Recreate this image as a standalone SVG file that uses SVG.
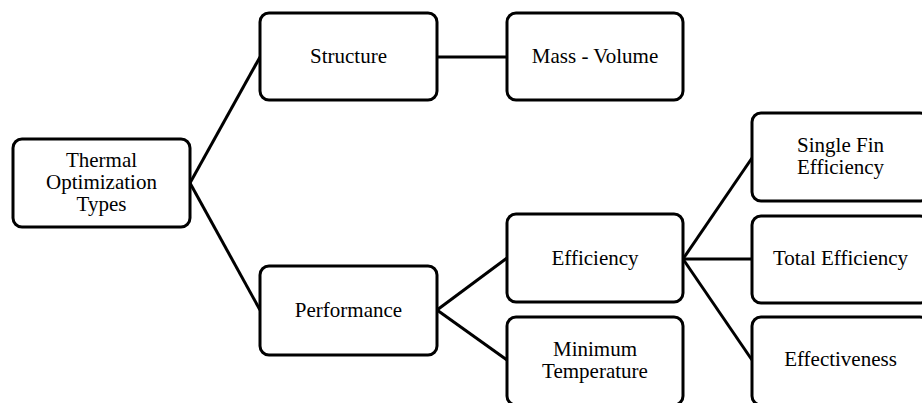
<svg xmlns="http://www.w3.org/2000/svg" width="922" height="403" viewBox="0 0 922 403">
<style>
.box{fill:#fff;stroke:#000;stroke-width:3}
.lbl{font-family:'Liberation Serif','Times New Roman',serif;font-size:21px;fill:#000;text-anchor:middle}
.conn line{stroke:#000;stroke-width:3}
</style>
<rect width="922" height="403" fill="#fff"/>
<g class="conn" id="connectors">
<line x1="190" y1="183" x2="260" y2="57"/>
<line x1="190" y1="183" x2="260" y2="310"/>
<line x1="437" y1="57" x2="507" y2="57"/>
<line x1="437" y1="310" x2="507" y2="258"/>
<line x1="437" y1="310" x2="507" y2="360"/>
<line x1="683" y1="259" x2="752" y2="158"/>
<line x1="683" y1="259" x2="752" y2="259"/>
<line x1="683" y1="259" x2="752" y2="360"/>
</g>
<g id="thermal"><rect class="box" x="13" y="139" width="177" height="88" rx="9"/>
<text class="lbl" x="101.5" y="167">Thermal<tspan x="101.5" dy="22">Optimization</tspan><tspan x="101.5" dy="22">Types</tspan></text></g>
<g id="structure"><rect class="box" x="260" y="13" width="177" height="87" rx="9"/>
<text class="lbl" x="348.5" y="63">Structure</text></g>
<g id="mass-volume"><rect class="box" x="507" y="13" width="176" height="87" rx="9"/>
<text class="lbl" x="595" y="63">Mass - Volume</text></g>
<g id="performance"><rect class="box" x="260" y="266" width="177" height="89" rx="9"/>
<text class="lbl" x="348.5" y="317">Performance</text></g>
<g id="efficiency"><rect class="box" x="507" y="214" width="176" height="88" rx="9"/>
<text class="lbl" x="595" y="265">Efficiency</text></g>
<g id="min-temp"><rect class="box" x="507" y="317" width="176" height="88" rx="9"/>
<text class="lbl" x="595" y="356">Minimum<tspan x="595" dy="22">Temperature</tspan></text></g>
<g id="single-fin"><rect class="box" x="752" y="113" width="177" height="88" rx="9"/>
<text class="lbl" x="840.5" y="152">Single Fin<tspan x="840.5" dy="22">Efficiency</tspan></text></g>
<g id="total-eff"><rect class="box" x="752" y="216" width="177" height="87" rx="9"/>
<text class="lbl" x="840.5" y="265">Total Efficiency</text></g>
<g id="effectiveness"><rect class="box" x="752" y="317" width="177" height="88" rx="9"/>
<text class="lbl" x="840.5" y="366">Effectiveness</text></g>
</svg>
